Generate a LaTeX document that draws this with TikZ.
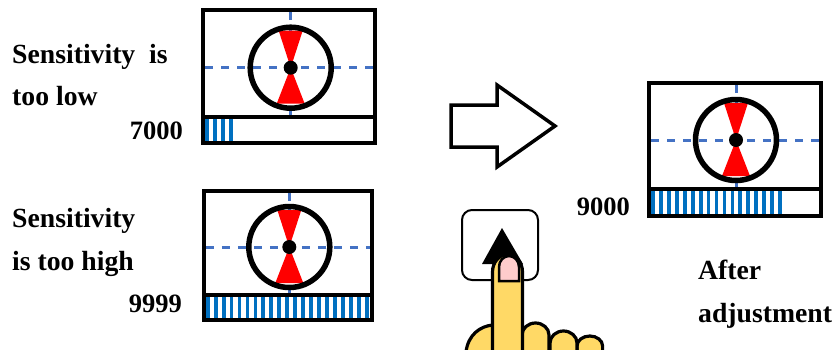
\documentclass[tikz,border=0pt]{standalone}
\usepackage{fontspec}
\setmainfont{Liberation Serif}
\definecolor{dashblue}{HTML}{4472C4}
\definecolor{barblue}{HTML}{0070C0}
\definecolor{handyellow}{HTML}{FFD966}
\definecolor{nailpink}{HTML}{FFCCCC}
\tikzset{
  label text/.style={font=\bfseries\fontsize{27.7}{27.7}\selectfont, anchor=base west, inner sep=0pt},
  value text/.style={font=\bfseries\fontsize{26.5}{26.5}\selectfont, anchor=base east, inner sep=0pt},
  frame line/.style={line width=4pt, draw=black},
  hand line/.style={line width=3.2pt, draw=black, fill=handyellow},
}
% centre x, centre y, left, right, top, bottom, divider, bars
\newcommand{\sensorpanel}[8]{
  \begin{scope}[shift={(#1,#2)}]
    \foreach \k in {1,...,#8}
      \fill[barblue] ({#3+2+(\k-1)*7.95},#7) rectangle ++(3.8,#6-#7);
    \draw[dashblue, line width=3pt, dash pattern=on 8pt off 8pt] (#3+2,0) -- (#4-2,0);
    \draw[dashblue, line width=3pt, dash pattern=on 8pt off 8pt] (0,#5+2) -- (0,#7-2);
    \fill[red] (-12,-37) -- (12,-37) -- (0,0) -- (14,36) -- (-14,36) -- (0,0) -- cycle;
    \draw[line width=5.5pt] (0,0) circle (40.5);
    \fill[black] (0,0) circle (7);
    \draw[frame line] (#3,#5) rectangle (#4,#6);
    \draw[frame line] (#3,#7) -- (#4,#7);
  \end{scope}
}
\begin{document}
\begin{tikzpicture}[x=1pt,y=-1pt]
  \useasboundingbox (0,0) rectangle (838,349);
  \clip (0,0) rectangle (838,349);
  % Panel 1: sensitivity too low
  \sensorpanel{290.7}{67.7}{-87.5}{84.5}{-58}{75.5}{49}{4}
  % Panel 2: sensitivity too high
  \sensorpanel{289.3}{247}{-85.5}{83}{-56}{73}{48}{21}
  % Panel 3: after adjustment
  \sensorpanel{736}{140}{-87}{85}{-57}{76}{49}{17}
  % Block arrow
  \draw[line width=3.5pt, line join=miter] (451,105) -- (497,105) -- (497,85) -- (555,126) -- (497,167) -- (497,147) -- (451,147) -- cycle;
  % Button
  \draw[line width=2pt, rounded corners=10pt] (462,210) rectangle (538,280);
  \fill[black] (502,228) -- (523,264) -- (482,264) -- cycle;
  % Hand: curled fingers, then palm, then pointing finger
  \draw[hand line] (577,352) -- (577,346) arc (180:360:12.8 and 10) -- (602.6,352);
  \draw[hand line] (550,352) -- (550,343) arc (180:360:13.5 and 12) -- (577,352);
  \draw[hand line] (522,352) -- (522,335) arc (180:360:13.5 and 12) -- (549,352);
  \draw[hand line] (466,352) .. controls (468,335) and (480,326) .. (493,325) -- (493,352);
  \draw[hand line] (492.5,352) -- (492.5,272) arc (180:360:15 and 17.5) -- (522.5,352) -- cycle;
  % Fingernail
  \draw[line width=2.5pt, fill=nailpink] (499,281) -- (499,267) arc (180:360:10 and 11) -- (519,281) -- cycle;
  % Labels
  \node[label text] (lowa) at (12,63) {Sensitivity\ \ is};
  \node[label text] (lowb) at (12,105) {too low};
  \node[value text] (lowval) at (183,139) {7000};
  \node[label text] (higha) at (12,227) {Sensitivity};
  \node[label text] (highb) at (12,270) {is too high};
  \node[value text] (highval) at (182,312) {9999};
  \node[value text] (adjval) at (630,215) {9000};
  \node[label text] (aftera) at (698,279) {After};
  \node[label text] (afterb) at (698,322) {adjustment};
\end{tikzpicture}
\end{document}
